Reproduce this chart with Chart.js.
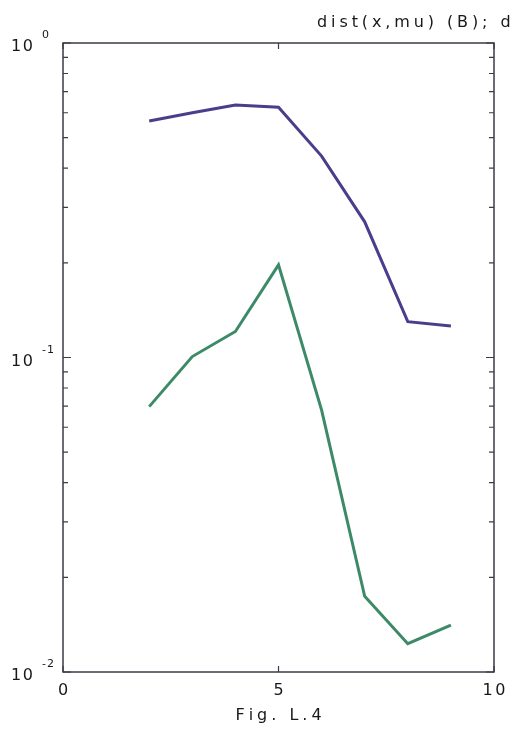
<!DOCTYPE html>
<html>
<head>
<meta charset="utf-8">
<script src="https://cdn.jsdelivr.net/npm/chart.js@4.4.1/dist/chart.umd.min.js"></script>
<style>
  html, body { margin: 0; padding: 0; background: #fff; }
  canvas { display: block; }
</style>
</head>
<body>
<canvas id="chart" width="512" height="729"></canvas>
<script>
// data
const xValues = [2, 3, 4, 5, 6, 7, 8, 9];
const distB = [0.565, 0.60, 0.635, 0.625, 0.437, 0.270, 0.130, 0.126];
const distA = [0.0698, 0.1007, 0.121, 0.197, 0.068, 0.0174, 0.0123, 0.0141];
const xTicks = [0, 5, 10];
const yTickExps = [0, -1, -2];
const titleText = "dist(x,mu) (B); d";
const captionText = "Fig. L.4";

const textColor = "#18181c";
const frameColor = "#3b3b48";
const labelFont = "'DejaVu Sans', 'Liberation Sans', sans-serif";

function toPoints(ys) {
  return xValues.map((x, i) => ({ x: x, y: ys[i] }));
}

// draws text one char at a time with extra tracking
function drawSpaced(ctx, text, x, y, spacing, align) {
  let total = 0;
  for (const ch of text) total += ctx.measureText(ch).width + spacing;
  total -= spacing;
  let cx = x;
  if (align === "center") cx = x - total / 2;
  if (align === "right") cx = x - total;
  ctx.textAlign = "left";
  for (const ch of text) {
    ctx.fillText(ch, cx, y);
    cx += ctx.measureText(ch).width + spacing;
  }
}

const framePlugin = {
  id: "frame",
  afterDraw(chart) {
    const ctx = chart.ctx;
    const area = chart.chartArea;
    const xs = chart.scales.x;
    const ys = chart.scales.y;
    ctx.save();

    // box
    ctx.strokeStyle = frameColor;
    ctx.lineWidth = 1.5;
    ctx.strokeRect(area.left, area.top, area.right - area.left, area.bottom - area.top);

    // y ticks, inward on both sides
    ctx.lineWidth = 1.2;
    ctx.beginPath();
    for (let e = -2; e <= 0; e++) {
      for (let m = 1; m <= 9; m++) {
        const v = m * Math.pow(10, e);
        if (v > 1.0001) break;
        const py = ys.getPixelForValue(v);
        const len = m === 1 ? 8 : 5;
        ctx.moveTo(area.left, py);
        ctx.lineTo(area.left + len, py);
        ctx.moveTo(area.right, py);
        ctx.lineTo(area.right - len, py);
      }
    }
    // x ticks
    xTicks.forEach((v) => {
      const px = xs.getPixelForValue(v);
      ctx.moveTo(px, area.bottom);
      ctx.lineTo(px, area.bottom - 6);
      ctx.moveTo(px, area.top);
      ctx.lineTo(px, area.top + 6);
    });
    ctx.stroke();

    ctx.fillStyle = textColor;
    ctx.textBaseline = "alphabetic";

    // y labels 10^n
    yTickExps.forEach((e) => {
      const py = ys.getPixelForValue(Math.pow(10, e));
      ctx.font = "16px " + labelFont;
      drawSpaced(ctx, "10", 11, py + 8, 1.5, "left");
      ctx.font = "11px " + labelFont;
      drawSpaced(ctx, e === 0 ? "0" : String(e), 42, py - 5, 1, "left");
    });

    // x labels
    ctx.font = "16px " + labelFont;
    xTicks.forEach((v) => {
      const px = xs.getPixelForValue(v);
      drawSpaced(ctx, String(v), px, area.bottom + 23, 2.5, "center");
    });

    // caption and title
    drawSpaced(ctx, captionText, (area.left + area.right) / 2, 720, 4, "center");
    drawSpaced(ctx, titleText, 317, 27, 3.9, "left");

    ctx.restore();
  }
};

new Chart(document.getElementById("chart"), {
  type: "line",
  data: {
    datasets: [
      {
        label: "dist(x,mu) (B)",
        data: toPoints(distB),
        borderColor: "#4a3d8c",
        borderWidth: 3,
        pointRadius: 0,
        tension: 0,
        fill: false
      },
      {
        label: "dist(x,mu) (A)",
        data: toPoints(distA),
        borderColor: "#3d8a68",
        borderWidth: 3,
        pointRadius: 0,
        tension: 0,
        fill: false
      }
    ]
  },
  options: {
    responsive: false,
    animation: false,
    layout: { padding: { left: 63, right: 18, top: 43, bottom: 57 } },
    plugins: {
      legend: { display: false },
      tooltip: { enabled: false },
      title: { display: false }
    },
    scales: {
      x: {
        type: "linear",
        min: 0,
        max: 10,
        display: false
      },
      y: {
        type: "logarithmic",
        min: 0.01,
        max: 1,
        display: false
      }
    }
  },
  plugins: [framePlugin]
});
</script>
</body>
</html>
